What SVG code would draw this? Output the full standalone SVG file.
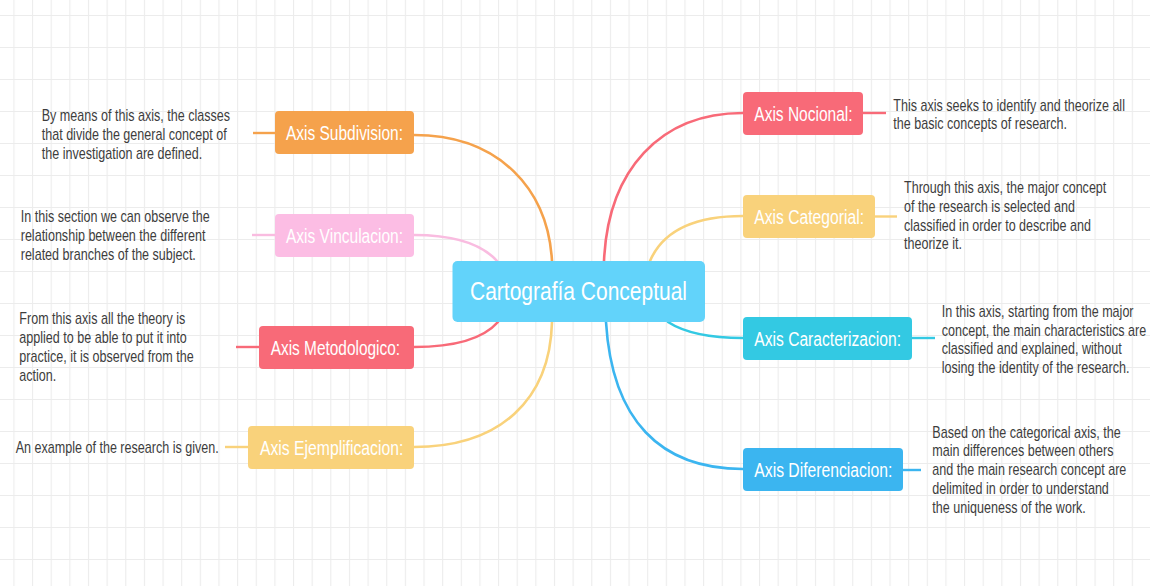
<svg xmlns="http://www.w3.org/2000/svg" width="1150" height="586" viewBox="0 0 1150 586">
  <defs>
    <pattern id="grid" patternUnits="userSpaceOnUse" x="13.4" y="15" width="18.64" height="32">
      <path d="M0,0.5 H18.64 M0.5,0 V32" fill="none" stroke="#ececec" stroke-width="1.2"/>
    </pattern>
    <style>
      .conn { fill: none; stroke-width: 2.6; stroke-linecap: round; }
      .stub { fill: none; stroke-width: 2.4; }
      .lbl { font-family: "Liberation Sans", Arial, sans-serif; font-size: 19.5px; fill: #ffffff; }
      .desc { font-family: "Liberation Sans", Arial, sans-serif; font-size: 16px; fill: #3d3d3d; }
      .orange { stroke: #F5A24C; }
      .pink { stroke: #F9BCE0; }
      .red { stroke: #F86A78; }
      .yellow { stroke: #F9D27B; }
      .cyan { stroke: #33C9E3; }
      .blue { stroke: #3BB5F0; }
    </style>
  </defs>

  <rect x="0" y="0" width="1150" height="586" fill="#ffffff"/>
  <rect x="0" y="0" width="1150" height="586" fill="url(#grid)"/>

  <g id="connectors">
    <path class="conn orange" d="M414,135 C500,135 548,190 552,261"/>
    <path class="conn pink" d="M414,235 C450,235 480,242 497,261"/>
    <path class="conn red" d="M414,347 C452,347 482,340 498,322"/>
    <path class="conn yellow" d="M414,447 C500,447 550,400 552,322"/>
    <path class="conn red" d="M743,113 C660,113 608,170 604,261"/>
    <path class="conn yellow" d="M743,216 C690,216 662,233 650,261"/>
    <path class="conn cyan" d="M668,322 C685,333 708,338 743,338"/>
    <path class="conn blue" d="M606,322 C612,420 660,469 743,469"/>
    <path class="stub orange" d="M253,133 H275"/>
    <path class="stub pink" d="M252,235 H275"/>
    <path class="stub red" d="M236,347 H259"/>
    <path class="stub yellow" d="M225,447 H248"/>
    <path class="stub red" d="M863,113 H886"/>
    <path class="stub yellow" d="M875,216.5 H897"/>
    <path class="stub cyan" d="M912,338 H935"/>
    <path class="stub blue" d="M903,470 H921"/>
  </g>

  <g id="center">
    <rect x="452.5" y="261" width="252.5" height="61" rx="5" fill="#62D3FA"/>
    <text x="470" y="300" textLength="217" lengthAdjust="spacingAndGlyphs" style="font-family:'Liberation Sans',Arial,sans-serif;font-size:25px;fill:#ffffff">Cartografía Conceptual</text>
  </g>

  <g id="subdivision">
    <rect x="275" y="111" width="139" height="43" rx="4" fill="#F5A24C"/>
    <text class="lbl" x="286" y="140" textLength="117" lengthAdjust="spacingAndGlyphs">Axis Subdivision:</text>
  </g>
  <g id="subdivision-desc">
    <text class="desc" transform="translate(41.7,0) scale(0.785,1)">
      <tspan x="0" y="120.7">By means of this axis, the classes</tspan>
      <tspan x="0" y="139.7">that divide the general concept of</tspan>
      <tspan x="0" y="158.7">the investigation are defined.</tspan>
    </text>
  </g>

  <g id="vinculacion">
    <rect x="275" y="214" width="139" height="43" rx="4" fill="#FCBDE4"/>
    <text class="lbl" x="286" y="242.5" textLength="117" lengthAdjust="spacingAndGlyphs">Axis Vinculacion:</text>
  </g>
  <g id="vinculacion-desc">
    <text class="desc" transform="translate(20.7,0) scale(0.785,1)">
      <tspan x="0" y="221.7">In this section we can observe the</tspan>
      <tspan x="0" y="240.7">relationship between the different</tspan>
      <tspan x="0" y="259.7">related branches of the subject.</tspan>
    </text>
  </g>

  <g id="metodologico">
    <rect x="259" y="326" width="155" height="43" rx="4" fill="#F86A78"/>
    <text class="lbl" x="270.7" y="354.5" textLength="129.3" lengthAdjust="spacingAndGlyphs">Axis Metodologico:</text>
  </g>
  <g id="metodologico-desc">
    <text class="desc" transform="translate(19.3,0) scale(0.785,1)">
      <tspan x="0" y="324">From this axis all the theory is</tspan>
      <tspan x="0" y="342.8">applied to be able to put it into</tspan>
      <tspan x="0" y="361.7">practice, it is observed from the</tspan>
      <tspan x="0" y="380.6">action.</tspan>
    </text>
  </g>

  <g id="ejemplificacion">
    <rect x="248" y="426" width="166" height="43" rx="4" fill="#F9D27B"/>
    <text class="lbl" x="260" y="454.5" textLength="143.3" lengthAdjust="spacingAndGlyphs">Axis Ejemplificacion:</text>
  </g>
  <g id="ejemplificacion-desc">
    <text class="desc" transform="translate(15.7,0) scale(0.785,1)" x="0" y="453.3">An example of the research is given.</text>
  </g>

  <g id="nocional">
    <rect x="743" y="92" width="120" height="43" rx="4" fill="#F86A78"/>
    <text class="lbl" x="754.3" y="120.6" textLength="98.3" lengthAdjust="spacingAndGlyphs">Axis Nocional:</text>
  </g>
  <g id="nocional-desc">
    <text class="desc" transform="translate(893.3,0) scale(0.785,1)">
      <tspan x="0" y="110.7">This axis seeks to identify and theorize all</tspan>
      <tspan x="0" y="129.5">the basic concepts of research.</tspan>
    </text>
  </g>

  <g id="categorial">
    <rect x="743" y="195" width="132" height="43" rx="4" fill="#F9D27B"/>
    <text class="lbl" x="754.3" y="223.5" textLength="109.7" lengthAdjust="spacingAndGlyphs">Axis Categorial:</text>
  </g>
  <g id="categorial-desc">
    <text class="desc" transform="translate(904,0) scale(0.785,1)">
      <tspan x="0" y="193.3">Through this axis, the major concept</tspan>
      <tspan x="0" y="212.1">of the research is selected and</tspan>
      <tspan x="0" y="230.9">classified in order to describe and</tspan>
      <tspan x="0" y="249.5">theorize it.</tspan>
    </text>
  </g>

  <g id="caracterizacion">
    <rect x="743" y="317" width="169" height="43" rx="4" fill="#33C9E3"/>
    <text class="lbl" x="754.3" y="345.5" textLength="146.7" lengthAdjust="spacingAndGlyphs">Axis Caracterizacion:</text>
  </g>
  <g id="caracterizacion-desc">
    <text class="desc" transform="translate(941.7,0) scale(0.785,1)">
      <tspan x="0" y="316.7">In this axis, starting from the major</tspan>
      <tspan x="0" y="335.6">concept, the main characteristics are</tspan>
      <tspan x="0" y="354.5">classified and explained, without</tspan>
      <tspan x="0" y="373.4">losing the identity of the research.</tspan>
    </text>
  </g>

  <g id="diferenciacion">
    <rect x="743" y="448" width="160" height="43" rx="4" fill="#3BB5F0"/>
    <text class="lbl" x="754.3" y="476.5" textLength="138" lengthAdjust="spacingAndGlyphs">Axis Diferenciacion:</text>
  </g>
  <g id="diferenciacion-desc">
    <text class="desc" transform="translate(932.3,0) scale(0.785,1)">
      <tspan x="0" y="437.7">Based on the categorical axis, the</tspan>
      <tspan x="0" y="456.5">main differences between others</tspan>
      <tspan x="0" y="475.3">and the main research concept are</tspan>
      <tspan x="0" y="494.1">delimited in order to understand</tspan>
      <tspan x="0" y="512.9">the uniqueness of the work.</tspan>
    </text>
  </g>
</svg>
